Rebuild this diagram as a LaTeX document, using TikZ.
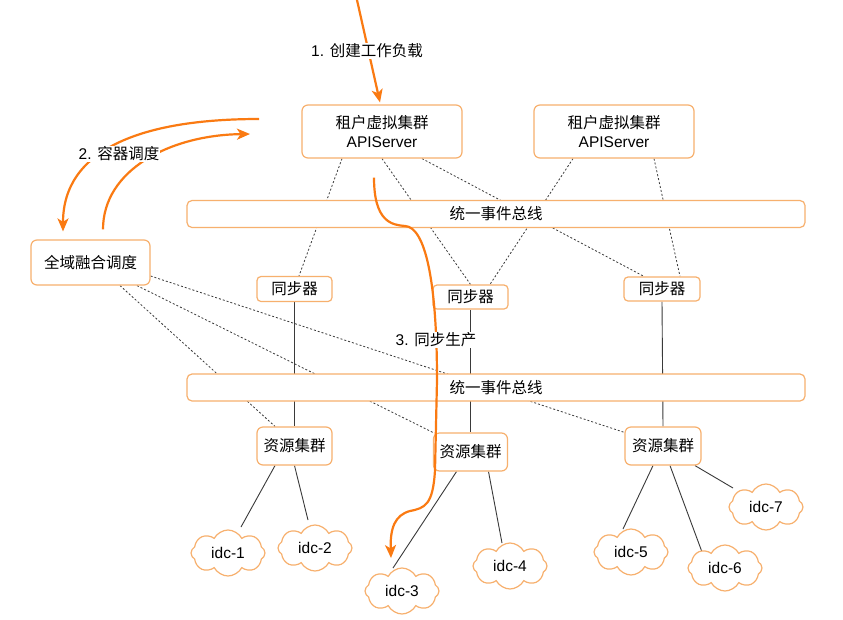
\documentclass[tikz,border=0pt]{standalone}
\usepackage{fontspec}
\setmainfont{Noto Sans CJK SC}
\newfontfamily\latf{Liberation Sans}
\usetikzlibrary{arrows.meta,shapes.symbols,backgrounds}
\definecolor{boxc}{HTML}{F7B06E}
\definecolor{flowc}{HTML}{FA7A12}
\definecolor{linec}{HTML}{3A3A3A}

\begin{document}
\begin{tikzpicture}[x=1pt, y=-1pt,
        box/.style={draw=boxc, line width=1.2pt, rounded corners=6pt, fill=white, inner sep=0pt, align=center, font=\fontsize{15.5}{19}\selectfont},
        cld/.style={cloud, cloud puffs=8, cloud puff arc=125, aspect=1.6, draw=boxc, line width=1.2pt, fill=white, inner sep=0pt, minimum width=74pt, minimum height=46pt, font=\latf\fontsize{15.5}{19}\selectfont},
        dotlink/.style={draw=linec, line width=0.8pt, dash pattern=on 2pt off 2pt},
        solidlink/.style={draw=linec, line width=0.9pt},
        flowarrow/.style={draw=flowc, line width=2.2pt, -{Stealth[length=13pt, width=11pt, inset=3.5pt]}},
        flowlabel/.style={fill=white, inner sep=1pt, font=\fontsize{15.5}{19}\selectfont}]
            \useasboundingbox (0,0) rectangle (843,619);

            \node[box, minimum width=160pt, minimum height=53pt] (api1) at (382,131.5) {租户虚拟集群\\{\latf APIServer}};
            \node[box, minimum width=160pt, minimum height=53pt] (api2) at (614,131.5) {租户虚拟集群\\{\latf APIServer}};
            \node[box, minimum width=618pt, minimum height=27pt, rounded corners=5pt] (bus1) at (496,214) {统一事件总线};
            \node[box, minimum width=119pt, minimum height=45pt] (sched) at (90.5,262.5) {全域融合调度};

            \node[box, minimum width=75pt, minimum height=25pt, rounded corners=4pt] (sync1) at (294.5,289) {同步器};
            \node[box, minimum width=75pt, minimum height=24pt, rounded corners=4pt] (sync2) at (470.5,297) {同步器};
            \node[box, minimum width=76pt, minimum height=24pt, rounded corners=4pt] (sync3) at (662,289) {同步器};

            \node[box, minimum width=618pt, minimum height=27pt, rounded corners=5pt] (bus2) at (496,387.5) {统一事件总线};

            \node[box, minimum width=75pt, minimum height=38pt] (rc1) at (294.5,446) {资源集群};
            \node[box, minimum width=74pt, minimum height=38pt] (rc2) at (470.5,452) {资源集群};
            \node[box, minimum width=76pt, minimum height=38pt] (rc3) at (663,446) {资源集群};

            \node[cld] (idc1) at (228,553) {idc-1};
            \node[cld] (idc2) at (315,548) {idc-2};
            \node[cld] (idc3) at (402,591) {idc-3};
            \node[cld] (idc4) at (510,566) {idc-4};
            \node[cld] (idc5) at (631,552) {idc-5};
            \node[cld] (idc6) at (725,568) {idc-6};
            \node[cld] (idc7) at (766,507) {idc-7};

            \begin{pgfonlayer}{background}
            \fill[white] (0,0) rectangle (843,619);
            \draw[dotlink] ([xshift=-40pt]api1.south) -- ([xshift=4.5pt]sync1.north);
            \draw[dotlink] (api1.south) -- (sync2.north);
            \draw[dotlink] ([xshift=40pt]api1.south) -- ([xshift=-18pt]sync3.north);
            \draw[dotlink] ([xshift=-41pt]api2.south) -- ([xshift=19.5pt]sync2.north);
            \draw[dotlink] ([xshift=40pt]api2.south) -- ([xshift=18pt]sync3.north);
            \draw[dotlink] ([yshift=-13.5pt]sched.east) -- ([yshift=-6pt]rc3.north west);
            \draw[dotlink] ([xshift=46.5pt]sched.south) -- (rc2.north west);
            \draw[dotlink] ([xshift=29.5pt]sched.south) -- ([xshift=-19.5pt]rc1.north);

            \draw[solidlink] (sync1.south) -- (rc1.north);
            \draw[solidlink] (sync2.south) -- (rc2.north);
            \draw[solidlink] (sync3.south) -- (rc3.north);

            \draw[solidlink] ([xshift=-19.5pt]rc1.south) -- ([xshift=13pt,yshift=26pt]idc1.center);
            \draw[solidlink] (rc1.south) -- ([xshift=-7pt,yshift=28pt]idc2.center);
            \draw[solidlink] ([xshift=-14pt]rc2.south) -- ([xshift=-9pt,yshift=23pt]idc3.center);
            \draw[solidlink] ([xshift=18pt]rc2.south) -- ([xshift=-8pt,yshift=23pt]idc4.center);
            \draw[solidlink] ([xshift=-10pt]rc3.south) -- ([xshift=-8pt,yshift=23pt]idc5.center);
            \draw[solidlink] ([xshift=7pt]rc3.south) -- ([xshift=-23pt,yshift=16pt]idc6.center);
            \draw[solidlink] ([xshift=32pt]rc3.south) -- ([xshift=-33pt,yshift=19pt]idc7.center);
            \end{pgfonlayer}

            \coordinate (src) at (357,0);
            \coordinate (back) at (259,119);
            \coordinate (fwd) at (250,134);
            \draw[flowarrow] (src) -- ([xshift=-2pt,yshift=2pt]api1.north);
            \node[flowlabel] (lab1) at (367,51) {{\latf 1. }创建工作负载};

            \draw[flowarrow] (back) .. controls (140,119) and (63,150) .. ([xshift=-27.5pt,yshift=8pt]sched.north);
            \draw[flowarrow] ([xshift=12.5pt,yshift=10pt]sched.north) .. controls (103,170) and (170,135) .. (fwd);
            \node[flowlabel] (lab2) at (119,154) {{\latf 2. }容器调度};

            \draw[flowarrow] ([xshift=-8pt,yshift=-19pt]api1.south) .. controls (374,222) and (392,225) .. (405,226) .. controls (425,227) and (437,280) .. (437,380) -- (435,470) .. controls (433,505) and (425,508) .. (410,511) .. controls (395,515) and (390,528) .. ([xshift=-11pt,yshift=33pt]idc3.center);
            \node[flowlabel] (lab3) at (436,340) {{\latf 3. }同步生产};
\end{tikzpicture}
\end{document}
